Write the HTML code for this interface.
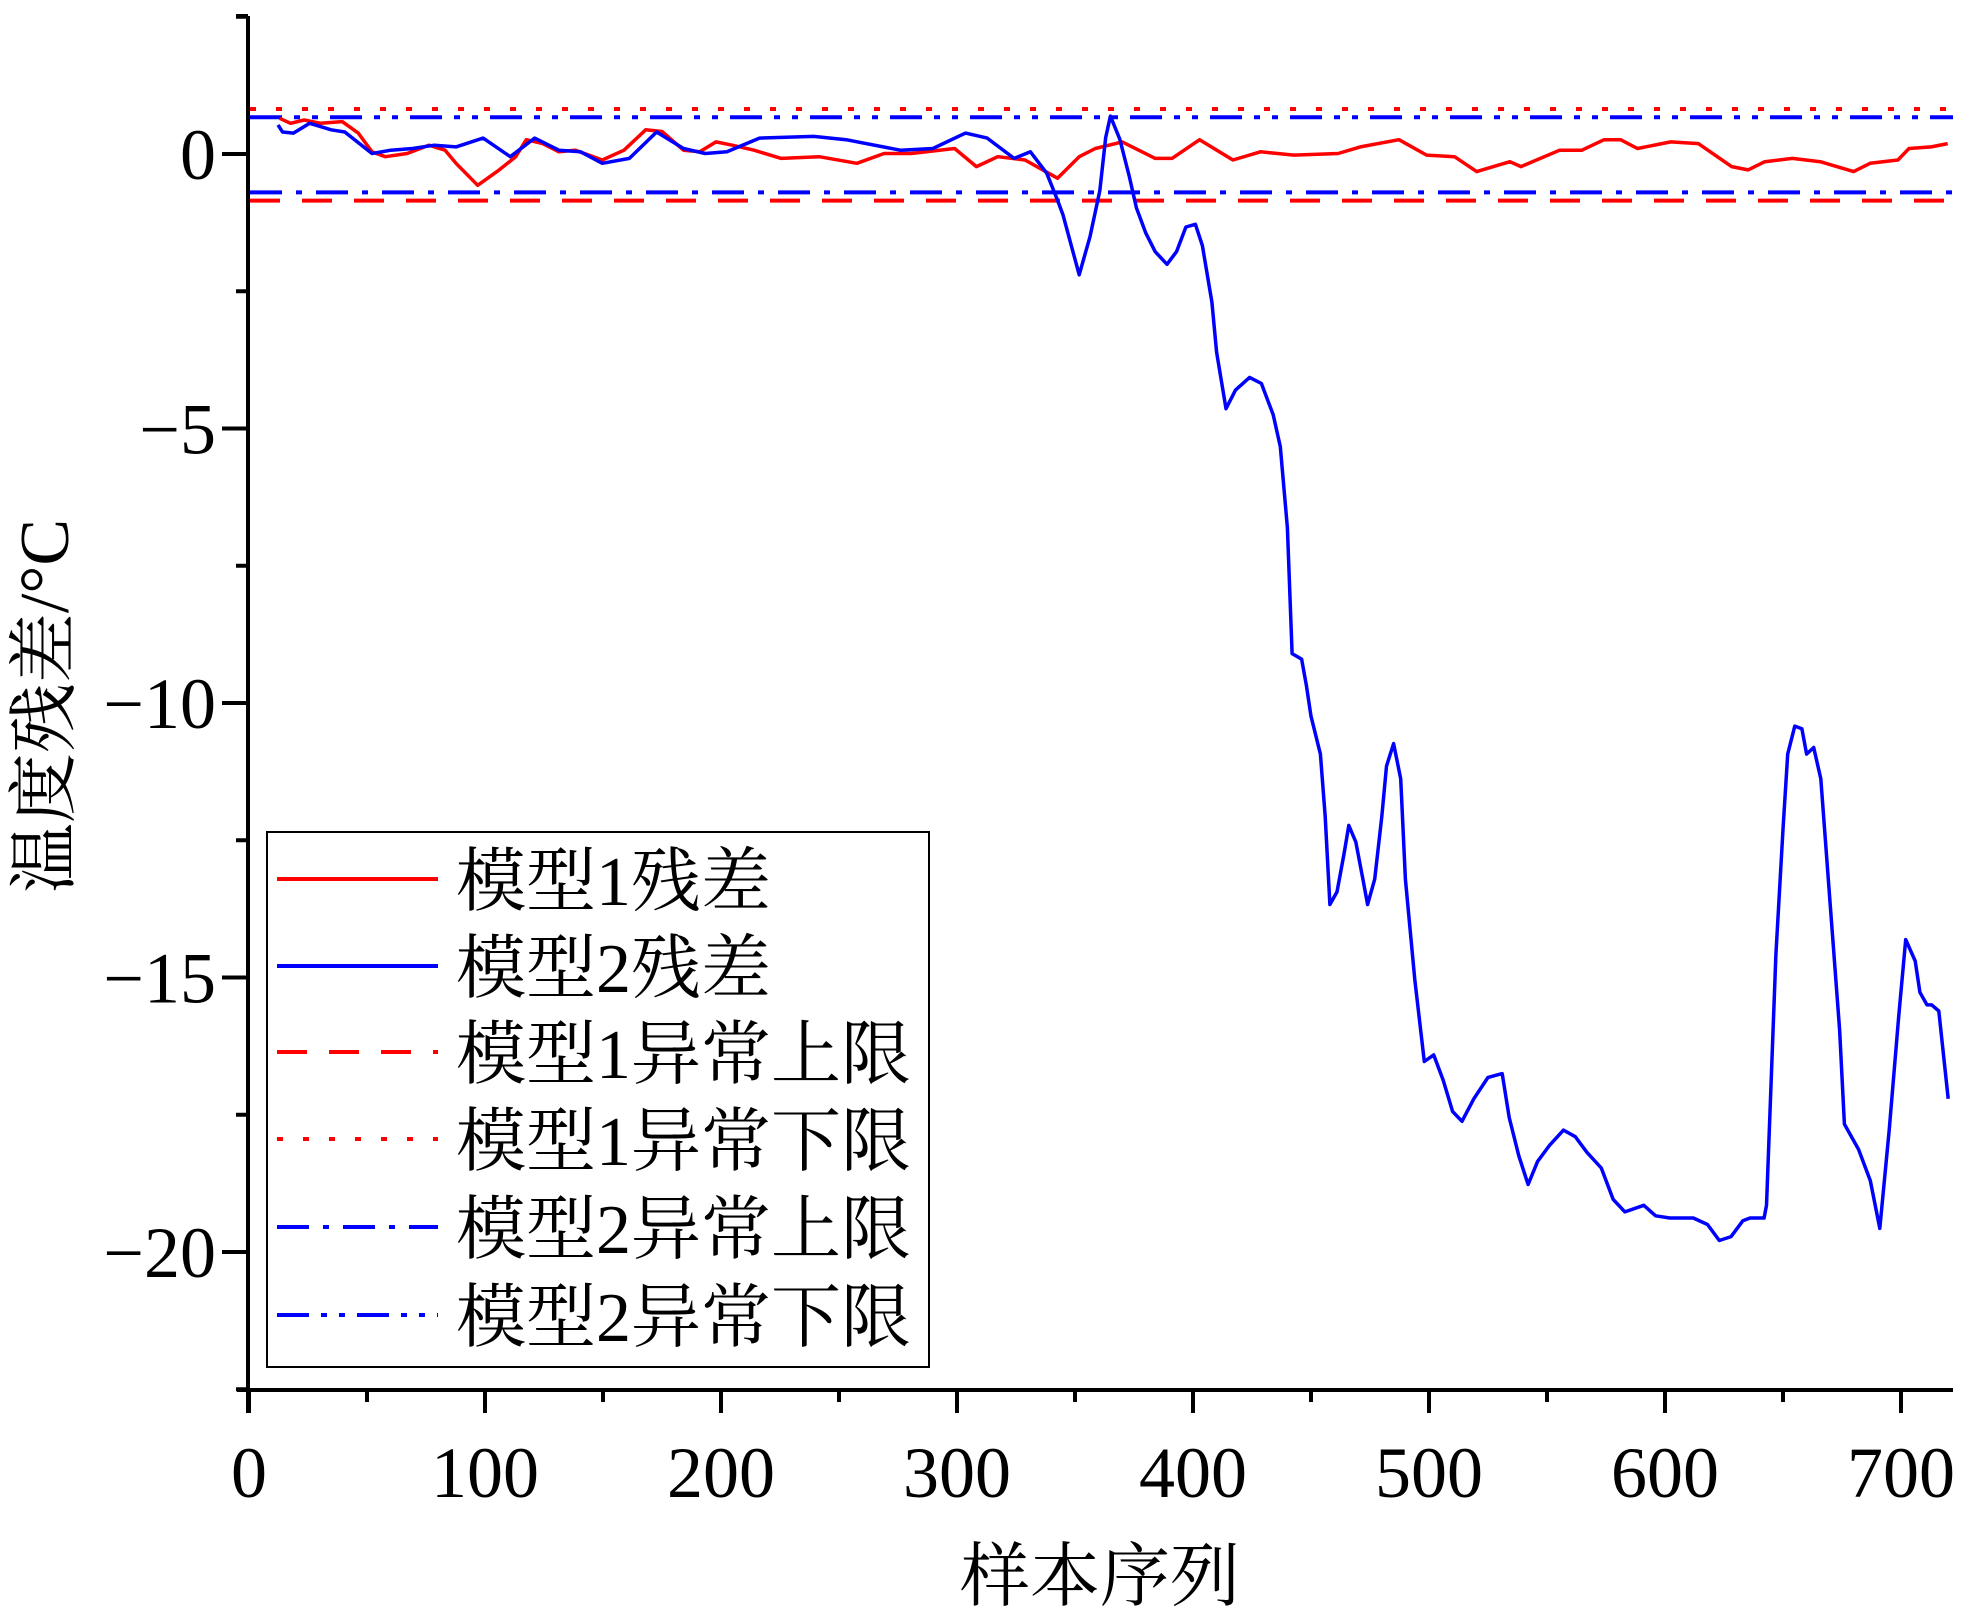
<!DOCTYPE html>
<html><head><meta charset="utf-8"><style>
html,body{margin:0;padding:0;background:#fff;}
svg{display:block;}
text{font-family:"Liberation Serif","Noto Serif CJK SC",serif;fill:#000;}
</style></head><body>
<svg id="chart" width="1969" height="1617" viewBox="0 0 1969 1617">
<g id="plot"></g>
<g id="axes"></g>
<g id="legend"></g>
</svg>
<script>
const xTicks = [0,100,200,300,400,500,600,700];
const yTicks = [0,-5,-10,-15,-20];
const yTickLabels = ["0","\u22125","\u221210","\u221215","\u221220"];
const m1X = [13,17.6,23.4,30.3,39.5,46.3,52.1,57.8,67,76.2,83.1,87.7,96.9,106,113,117.5,124.4,131.3,138.2,149.7,158.9,168.1,175,184.1,191,197.9,204.8,214,225.5,241.6,257.6,269.1,280.6,299,308.2,317.3,328.8,342.6,351.8,358.6,370,384,391.1,402.8,416.9,428.6,442.7,461.5,470.9,487.3,499,510.8,520.2,534.3,539,555.4,564.8,574.2,581.2,588.3,602.4,614.1,628.2,635.2,642.3,654,665.8,679.9,686.9,698.7,703.4,712.8,719.8];
const m1Y = [0.65,0.56,0.62,0.56,0.59,0.38,0.04,-0.05,0.01,0.16,0.07,-0.17,-0.57,-0.29,-0.05,0.26,0.19,0.04,0.07,-0.11,0.07,0.44,0.41,0.07,0.04,0.22,0.16,0.07,-0.08,-0.05,-0.17,0.01,0.01,0.10,-0.23,-0.05,-0.11,-0.44,-0.05,0.10,0.22,-0.08,-0.08,0.26,-0.11,0.04,-0.02,0.01,0.13,0.26,-0.02,-0.05,-0.32,-0.14,-0.23,0.07,0.07,0.26,0.26,0.10,0.22,0.19,-0.23,-0.29,-0.14,-0.08,-0.14,-0.32,-0.17,-0.11,0.10,0.13,0.19];
const m2X = [12.3,14.2,18.8,25.7,34.8,40.6,52.1,60.1,69.3,78.5,87.7,99.2,110.7,121,131.3,140.5,149.7,161.2,172.7,184.1,193.3,202.5,216.3,239.3,253,276,289.8,303.6,312.8,324.2,331.1,338,342.6,344.9,351.8,356.4,360.5,363,365,369,373,376,380,384,389,393,397,401,404,408,410,414,418,424,429,434,437,440,442,446,448,450,454,456,458,461,464,466,469,472,474,477,480,482,485,488,490,494,498,502,506,510,514,519,525,531,534,538,542,546,551,557,562,567,573,578,583,591,596,602,612,618,623,628,633,636,642,643,647,650,652,655,658,660,663,666,670,674,676,682,687,691,695,699,702,706,708,711,713,716,720];
const m2Y = [0.53,0.40,0.38,0.56,0.44,0.40,0.01,0.07,0.10,0.16,0.13,0.29,-0.05,0.29,0.07,0.04,-0.17,-0.08,0.40,0.10,0.01,0.04,0.29,0.32,0.26,0.07,0.10,0.38,0.29,-0.08,0.04,-0.35,-0.84,-1.11,-2.20,-1.50,-0.67,0.30,0.69,0.27,-0.41,-0.98,-1.44,-1.78,-2.01,-1.78,-1.33,-1.28,-1.67,-2.70,-3.61,-4.64,-4.30,-4.07,-4.18,-4.75,-5.33,-6.81,-9.1,-9.2,-9.67,-10.24,-10.93,-12.07,-13.67,-13.44,-12.75,-12.23,-12.53,-13.21,-13.67,-13.21,-12.07,-11.15,-10.74,-11.38,-13.21,-15.04,-16.53,-16.41,-16.87,-17.44,-17.62,-17.21,-16.82,-16.75,-17.55,-18.24,-18.77,-18.35,-18.06,-17.78,-17.90,-18.19,-18.47,-19.04,-19.27,-19.15,-19.34,-19.38,-19.38,-19.50,-19.79,-19.72,-19.43,-19.38,-19.38,-19.15,-14.58,-12.30,-10.93,-10.42,-10.47,-10.93,-10.81,-11.38,-13.67,-15.95,-17.67,-18.13,-18.70,-19.57,-17.78,-15.73,-14.31,-14.70,-15.27,-15.50,-15.50,-15.61,-17.21];
const limitValues = [-0.85, 0.82, -0.70, 0.67];
const legendLabels = ["模型1残差","模型2残差","模型1异常上限","模型1异常下限","模型2异常上限","模型2异常下限"];

const NS="http://www.w3.org/2000/svg";
const X0=249, XS=2.36, Y0=154, YS=54.9, XL=248, XR=1953, YT=16, YB=1390;
const sx=v=>X0+v*XS, sy=v=>Y0-v*YS;
function mk(tag, attrs, parent){const e=document.createElementNS(NS,tag);for(const k in attrs)e.setAttribute(k,attrs[k]);parent.appendChild(e);return e;}
const plot=document.getElementById('plot'), axes=document.getElementById('axes'), legend=document.getElementById('legend');

// limit lines
const limStyles=[["#ff0000","30 22"],["#ff0000","6 20"],["#0000ff","32 14 6 14"],["#0000ff","32 12 6 12 6 12"]];
const limNames=["model1-upper-limit-line","model1-lower-limit-line","model2-upper-limit-line","model2-lower-limit-line"];
limitValues.forEach((v,i)=>{
  const l=mk('line',{x1:XL+2,x2:XR,y1:sy(v),y2:sy(v),stroke:limStyles[i][0],'stroke-width':4,'stroke-dasharray':limStyles[i][1]},plot);
  
  
});
function series(xs,ys,color,name){
  const p=mk('polyline',{points:xs.map((x,i)=>sx(x).toFixed(1)+','+sy(ys[i]).toFixed(1)).join(' '),fill:'none',stroke:color,'stroke-width':3.5,'stroke-linejoin':'round'},plot);
  
  
}
series(m1X,m1Y,'#ff0000','model1-residual-line');
series(m2X,m2Y,'#0000ff','model2-residual-line');

// axes
const ya=mk('line',{x1:XL,x2:XL,y1:YT,y2:YB+23,stroke:'#000','stroke-width':4},axes);


const xa=mk('line',{x1:XL-11,x2:XR,y1:YB,y2:YB,stroke:'#000','stroke-width':4},axes);


mk('line',{x1:XL-12,x2:XL,y1:YT,y2:YT,stroke:'#000','stroke-width':4},axes);
for(let v=2.5; v>=-22.5; v-=2.5){
  const major = Math.abs(v%5)<1e-6;
  mk('line',{x1:XL-(major?26:12),x2:XL,y1:sy(v),y2:sy(v),stroke:'#000','stroke-width':4},axes);
}
yTicks.forEach((v,i)=>{
  const t=mk('text',{x:216,y:sy(v)+25,'text-anchor':'end','font-size':72},axes);
  t.textContent=yTickLabels[i];
  
  
});
for(let v=50; v<=700; v+=100){
  mk('line',{x1:sx(v),x2:sx(v),y1:YB,y2:YB+12,stroke:'#000','stroke-width':4},axes);
}
xTicks.forEach(v=>{
  mk('line',{x1:sx(v),x2:sx(v),y1:YB,y2:YB+23,stroke:'#000','stroke-width':4},axes);
  const t=mk('text',{x:sx(v),y:1497,'text-anchor':'middle','font-size':72},axes);
  t.textContent=String(v);
  
  
});
const xt=mk('text',{x:1100,y:1600,'text-anchor':'middle','font-size':70},axes);
xt.textContent='样本序列';


const yt=mk('text',{x:0,y:0,'text-anchor':'middle','font-size':70,transform:'translate(68,706) rotate(-90)'},axes);
yt.textContent='温度残差/°C';



// legend
const box=mk('rect',{x:267,y:832,width:662,height:535,fill:'#fff',stroke:'#000','stroke-width':2},legend);


const legStyles=[["#ff0000",""],["#0000ff",""],["#ff0000","30 22"],["#ff0000","6 20"],["#0000ff","32 14 6 14"],["#0000ff","32 12 6 12 6 12"]];
const rowY=[879,966,1052,1139,1227,1315];
legendLabels.forEach((lab,i)=>{
  const g=mk('g',{},legend);
  
  
  const a={x1:277,x2:438,y1:rowY[i],y2:rowY[i],stroke:legStyles[i][0],'stroke-width':4};
  if(legStyles[i][1]) a['stroke-dasharray']=legStyles[i][1];
  mk('line',a,g);
  const t=mk('text',{x:456,y:rowY[i]+26,'font-size':70},g);
  t.textContent=lab;
});
</script>
</body></html>
